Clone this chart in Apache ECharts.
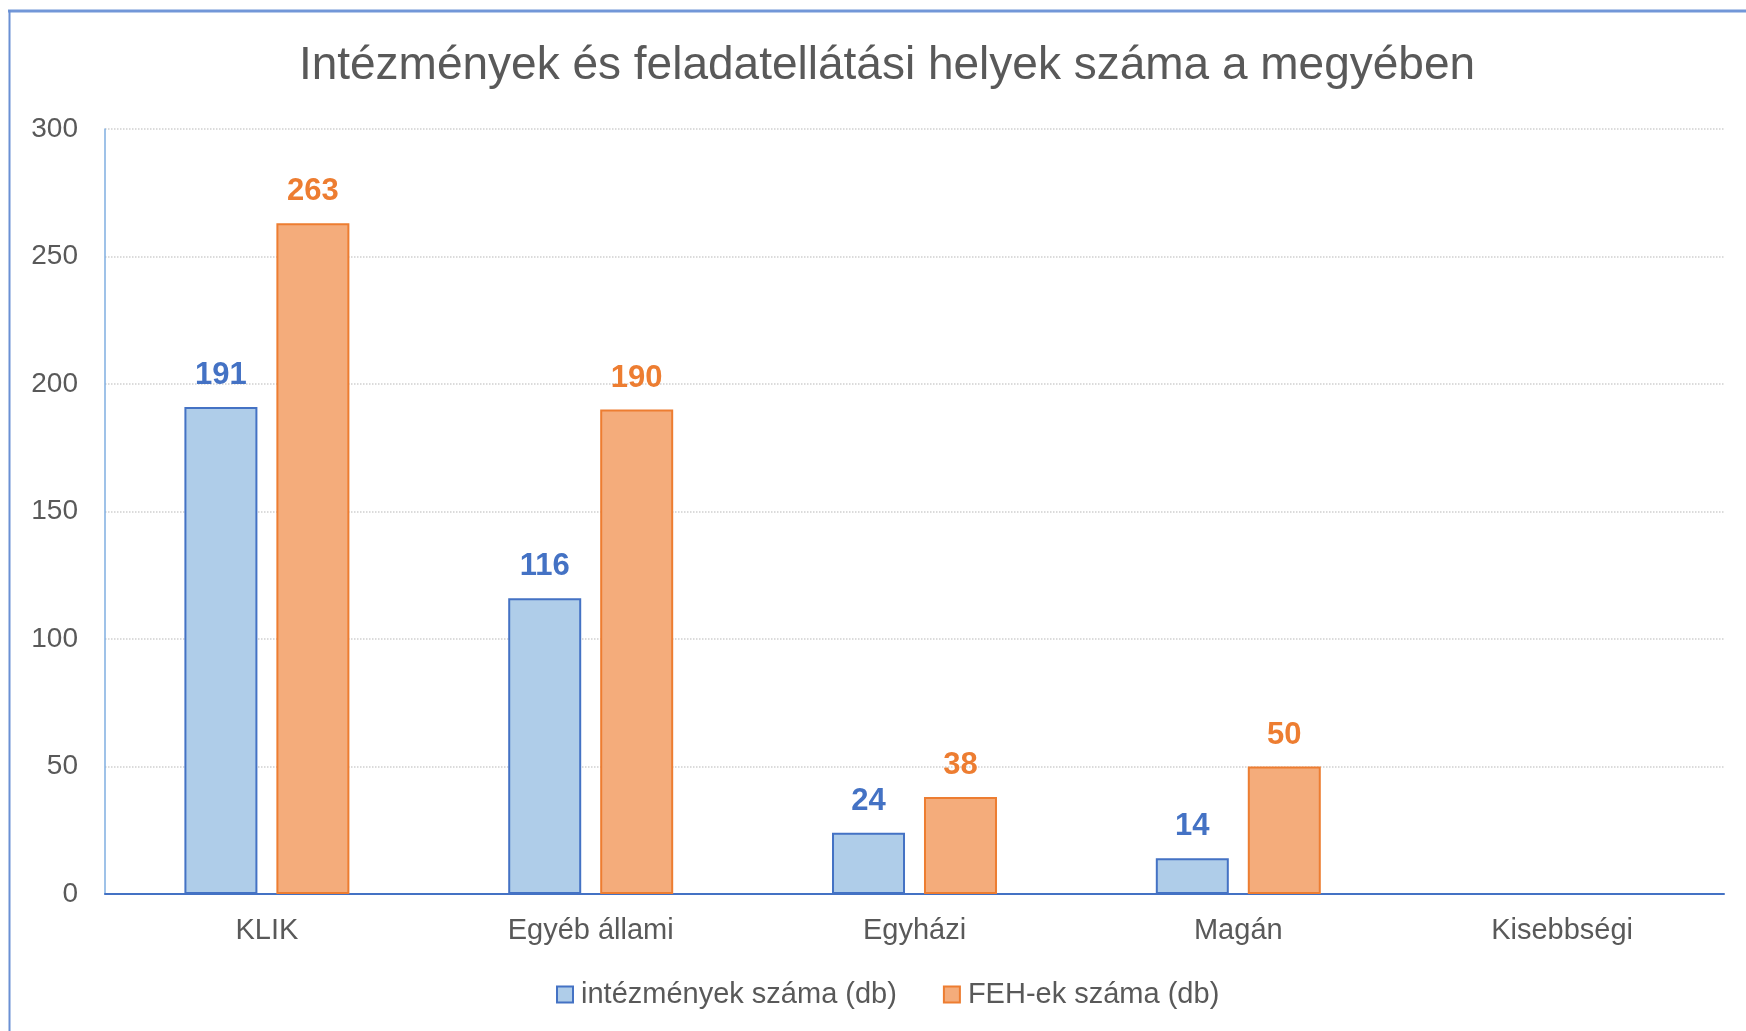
<!DOCTYPE html>
<html>
<head>
<meta charset="utf-8">
<script src="https://cdn.jsdelivr.net/npm/echarts@6/dist/echarts.min.js"></script>
<style>
html,body{margin:0;padding:0;background:#fff;}
#chart{width:1746px;height:1031px;}
</style>
</head>
<body>
<div id="chart"></div>
<script>
const titleText = 'Intézmények és feladatellátási helyek száma a megyében';
const categories = ['KLIK', 'Egyéb állami', 'Egyházi', 'Magán', 'Kisebbségi'];
const seriesNames = ['intézmények száma (db)', 'FEH-ek száma (db)'];
const intezmenyek = [191, 116, 24, 14, null];
const fehek = [263, 190, 38, 50, null];
const yTicks = [0, 50, 100, 150, 200, 250, 300];

const FONT = '"Liberation Sans", Arial, sans-serif';
const chart = echarts.init(document.getElementById('chart'));
chart.setOption({
  backgroundColor: '#ffffff',
  animation: false,
  title: {
    text: titleText,
    left: 882,
    top: 38,
    textAlign: 'center',
    textStyle: { fontFamily: FONT, fontSize: 46, fontWeight: 'normal', color: '#595959' }
  },
  graphic: [
    { type: 'line', shape: { x1: 8, y1: 11, x2: 1746, y2: 11 }, style: { stroke: '#7297D8', lineWidth: 3 } },
    { type: 'line', shape: { x1: 9.5, y1: 10, x2: 9.5, y2: 1031 }, style: { stroke: '#6A90D4', lineWidth: 2 } }
  ],
  legend: {
    left: 551,
    top: 975,
    itemWidth: 16,
    itemHeight: 16,
    itemGap: 46,
    icon: 'rect',
    textStyle: { fontFamily: FONT, fontSize: 29, color: '#595959', padding: [0, 0, 0, 3] },
    data: seriesNames
  },
  grid: { left: 105, right: 22, top: 129, bottom: 137, containLabel: false },
  xAxis: {
    type: 'category',
    data: categories,
    axisLine: { show: true, lineStyle: { color: '#4472C4', width: 2 } },
    axisTick: { show: false },
    axisLabel: { fontFamily: FONT, fontSize: 29, color: '#595959', margin: 22 }
  },
  yAxis: {
    type: 'value',
    min: yTicks[0],
    max: yTicks[yTicks.length - 1],
    interval: yTicks[1] - yTicks[0],
    axisLine: { show: true, lineStyle: { color: '#7FAEE0', width: 1.5 } },
    axisTick: { show: false },
    axisLabel: { fontFamily: FONT, fontSize: 28, color: '#595959', margin: 27 },
    splitLine: { show: true, lineStyle: { color: '#D0D0D0', type: 'dotted', width: 1.5 } }
  },
  series: [
    {
      name: seriesNames[0],
      type: 'bar',
      data: intezmenyek,
      barWidth: 73,
      barGap: '26%',
      itemStyle: { color: '#AFCDE9', borderColor: '#4472C4', borderWidth: 2 },
      label: {
        show: true, position: 'top', distance: 16,
        fontFamily: FONT, fontSize: 31, fontWeight: 'bold', color: '#4472C4'
      }
    },
    {
      name: seriesNames[1],
      type: 'bar',
      data: fehek,
      barWidth: 73,
      barGap: '26%',
      itemStyle: { color: '#F4AC7B', borderColor: '#ED7D31', borderWidth: 2 },
      label: {
        show: true, position: 'top', distance: 16,
        fontFamily: FONT, fontSize: 31, fontWeight: 'bold', color: '#ED7D31'
      }
    }
  ]
});
</script>
</body>
</html>
